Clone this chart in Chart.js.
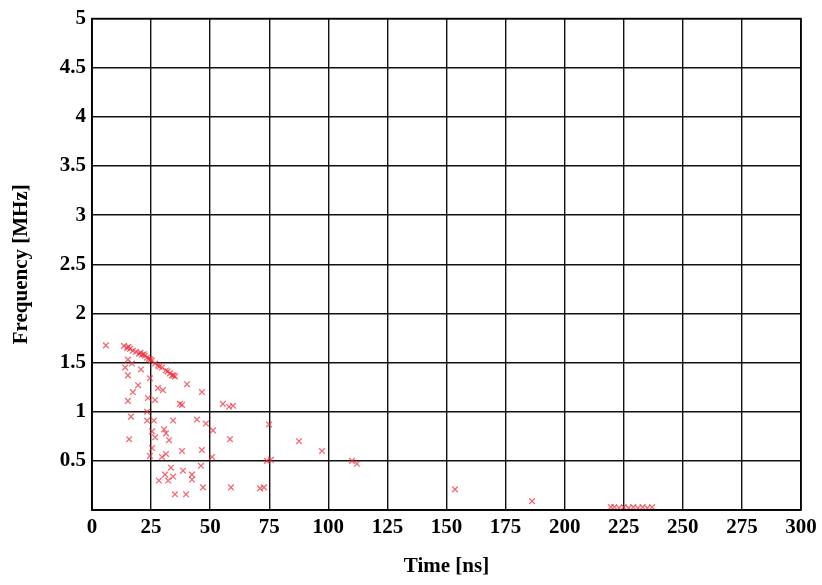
<!DOCTYPE html>
<html>
<head>
<meta charset="utf-8">
<script src="https://cdn.jsdelivr.net/npm/chart.js@4/dist/chart.umd.min.js"></script>
<style>
    html, body { margin: 0; padding: 0; background: #fff; }
    #wrap { width: 822px; height: 585px; }
</style>
</head>
<body>
<div id="wrap"><canvas id="scatterChart" width="822" height="585"></canvas></div>
<script>
// measured points (time in ns, frequency in MHz)
const timeNs = [
    5.9, 13.5, 14.8, 16.1, 17.3, 18.6, 19.9, 21.2, 22.4, 23.3, 24.1, 26.7, 27.9, 29.6, 31.3, 33.0, 33.8, 35.1, 40.2, 46.5,
    20.5, 22.0, 24.7, 25.3, 28.5, 32.0, 34.5, 15.5,
    15.2, 16.9, 14.0, 20.7, 15.2, 24.5, 19.5, 27.9, 30.0, 17.3, 23.7, 15.2, 26.7, 37.2, 38.1, 55.4, 58.0, 59.7,
    16.5, 23.3, 23.3, 26.2, 34.3, 44.4, 48.2, 74.9,
    15.7, 25.4, 26.7, 30.5, 31.3, 32.6, 51.2, 58.4, 87.6,
    25.4, 24.5, 29.6, 31.3, 38.1, 46.5, 50.8, 74.0, 75.7, 97.3, 110.0, 112.1,
    33.4, 38.5, 30.9, 34.3, 42.3, 42.3, 28.3, 32.2, 46.1,
    47.0, 58.8, 71.1, 72.8, 35.1, 39.8,
    153.6, 186.2,
    219.5, 221, 223, 225, 227, 229, 231, 233, 235, 237
];
const freqMHz = [
    1.675, 1.67, 1.65, 1.64, 1.62, 1.61, 1.59, 1.58, 1.57, 1.55, 1.54, 1.49, 1.47, 1.45, 1.42, 1.39, 1.37, 1.36, 1.28, 1.20,
    1.60, 1.585, 1.53, 1.52, 1.46, 1.41, 1.37, 1.66,
    1.53, 1.49, 1.45, 1.43, 1.37, 1.34, 1.27, 1.24, 1.22, 1.20, 1.14, 1.11, 1.12, 1.08, 1.07, 1.08, 1.05, 1.06,
    0.95, 1.00, 0.91, 0.91, 0.91, 0.92, 0.88, 0.87,
    0.72, 0.80, 0.74, 0.82, 0.78, 0.71, 0.81, 0.72, 0.70,
    0.63, 0.55, 0.54, 0.57, 0.60, 0.61, 0.54, 0.50, 0.51, 0.60, 0.50, 0.47,
    0.43, 0.40, 0.36, 0.34, 0.36, 0.31, 0.30, 0.30, 0.45,
    0.23, 0.23, 0.22, 0.23, 0.16, 0.16,
    0.21, 0.09,
    0.03, 0.03, 0.02, 0.03, 0.02, 0.03, 0.02, 0.03, 0.02, 0.03
];

const xTicksStep = 25;
const yTicksStep = 0.5;

const points = timeNs.map((t, i) => ({ x: t, y: freqMHz[i] }));

const tickFont = { family: '"Liberation Serif", "Times New Roman", serif', size: 21, weight: 'bold' };
const titleFont = { family: '"Liberation Serif", "Times New Roman", serif', size: 21, weight: 'bold' };

const ctx = document.getElementById('scatterChart').getContext('2d');
const scatterChart = new Chart(ctx, {
    type: 'scatter',
    data: {
        datasets: [{
            data: points,
            pointStyle: 'crossRot',
            pointRadius: 4,
            borderColor: 'rgba(240, 40, 55, 0.7)',
            backgroundColor: 'rgba(240, 40, 55, 0.7)',
            borderWidth: 1.3
        }]
    },
    options: {
        responsive: false,
        animation: false,
        layout: { padding: { top: 15, right: 21, left: 0, bottom: 0 } },
        plugins: {
            legend: { display: false },
            tooltip: { enabled: false }
        },
        scales: {
            x: {
                type: 'linear',
                min: 0,
                max: 300,
                ticks: { stepSize: xTicksStep, color: '#000', font: tickFont, padding: 5, maxRotation: 0 },
                grid: { color: '#111', lineWidth: 1.4, drawTicks: false },
                border: { display: true, color: '#000', width: 1.6 },
                title: { display: true, text: 'Time [ns]', color: '#000', font: titleFont, padding: { top: 0, bottom: 6 } },
                afterFit: (scale) => { scale.height = 75; }
            },
            y: {
                min: 0,
                max: 5,
                ticks: {
                    stepSize: yTicksStep,
                    color: '#000',
                    font: tickFont,
                    padding: 6,
                    callback: (v) => v === 0 ? '' : v
                },
                grid: { color: '#111', lineWidth: 1.4, drawTicks: false },
                border: { display: true, color: '#000', width: 1.6 },
                title: { display: true, text: 'Frequency [MHz]', color: '#000', font: titleFont, padding: { top: 9, bottom: 0 } },
                afterFit: (scale) => { scale.width = 92; }
            }
        }
    },
    plugins: [{
        // close the box on top and right like the original frame
        id: 'frame',
        afterDraw(chart) {
            const a = chart.chartArea;
            const c = chart.ctx;
            c.save();
            c.strokeStyle = '#000';
            c.lineWidth = 1.6;
            c.strokeRect(a.left, a.top, a.right - a.left, a.bottom - a.top);
            c.restore();
        }
    }]
});
</script>
</body>
</html>
